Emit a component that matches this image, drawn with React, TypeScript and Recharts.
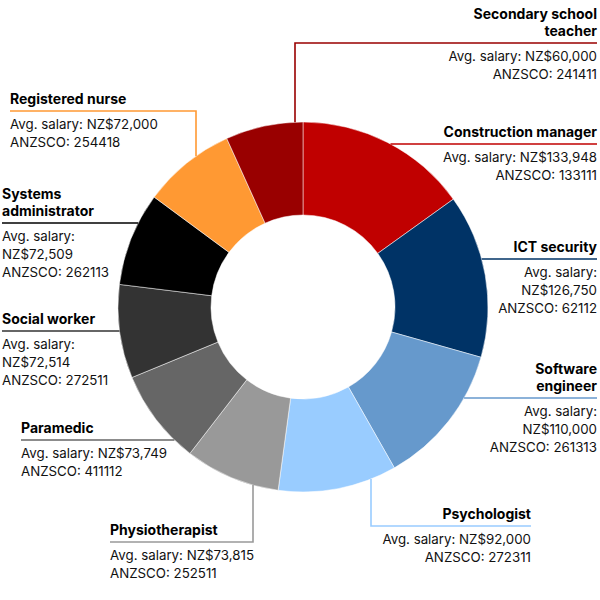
import React from 'react';
import { PieChart, Pie, Cell } from 'recharts';

const occupations = [
  'Construction manager',
  'ICT security',
  'Software engineer',
  'Psychologist',
  'Physiotherapist',
  'Paramedic',
  'Social worker',
  'Systems administrator',
  'Registered nurse',
  'Secondary school teacher',
];
const salaries = [133948, 126750, 110000, 92000, 73815, 73749, 72514, 72509, 72000, 60000];
const anzscoCodes = ['133111', '62112', '261313', '272311', '252511', '411112', '272511', '262113', '254418', '241411'];
const colors = ['#C00000', '#003366', '#6699CC', '#99CCFF', '#999999', '#666666', '#333333', '#000000', '#FF9933', '#990000'];

const data = occupations.map((name, i) => ({ name, value: salaries[i], code: anzscoCodes[i] }));

type LayoutItem = {
  anchor: 'start' | 'end';
  textX: number;
  lineY: number;
  elbowX?: number;
  splitSalary?: boolean;
  wrapTitle?: boolean;
};

const labelLayout: LayoutItem[] = [
  { anchor: 'end', textX: 597, lineY: 144 },
  { anchor: 'end', textX: 597, lineY: 259, splitSalary: true },
  { anchor: 'end', textX: 597, lineY: 398, splitSalary: true, wrapTitle: true },
  { anchor: 'end', textX: 531, lineY: 526, elbowX: 371 },
  { anchor: 'start', textX: 110, lineY: 542, elbowX: 253 },
  { anchor: 'start', textX: 21, lineY: 440 },
  { anchor: 'start', textX: 2, lineY: 331, splitSalary: true },
  { anchor: 'start', textX: 2, lineY: 223, splitSalary: true, wrapTitle: true },
  { anchor: 'start', textX: 10, lineY: 111, elbowX: 196 },
  { anchor: 'end', textX: 597, lineY: 43, elbowX: 295, wrapTitle: true },
];

const FONT = 'Inter, "Noto Sans", sans-serif';
const fmtSalary = (v: number) => 'NZ$' + v.toLocaleString('en-US');

const renderLabel = (props: any) => {
  const { cx, cy, outerRadius, index } = props;
  const lay = labelLayout[index];
  const d = data[index];
  const color = colors[index];
  const R = outerRadius;
  let path = '';
  if (lay.elbowX !== undefined) {
    const dx = lay.elbowX - cx;
    const off = Math.sqrt(Math.max(R * R - dx * dx, 0));
    const arcY = lay.lineY < cy ? cy - off : cy + off;
    path = `M${lay.elbowX},${arcY} L${lay.elbowX},${lay.lineY} L${lay.textX},${lay.lineY}`;
  } else {
    const dy = lay.lineY - cy;
    const off = Math.sqrt(Math.max(R * R - dy * dy, 0));
    const arcX = lay.anchor === 'end' ? cx + off : cx - off;
    path = `M${arcX},${lay.lineY} L${lay.textX},${lay.lineY}`;
  }
  let titleLines = [d.name];
  if (lay.wrapTitle) {
    const k = d.name.lastIndexOf(' ');
    titleLines = [d.name.slice(0, k), d.name.slice(k + 1)];
  }
  const bodyLines = lay.splitSalary
    ? ['Avg. salary:', fmtSalary(d.value), 'ANZSCO: ' + d.code]
    : ['Avg. salary: ' + fmtSalary(d.value), 'ANZSCO: ' + d.code];
  const nT = titleLines.length;
  return (
    <g key={'lbl' + index}>
      <path d={path} stroke={color} strokeWidth={1.6} fill="none" />
      {titleLines.map((t, i) => (
        <text
          key={'t' + i}
          x={lay.textX}
          y={lay.lineY - 12.5 - 17.5 * (nT - 1 - i)}
          textAnchor={lay.anchor}
          dominantBaseline="central"
          fontFamily={FONT}
          fontSize={14}
          fontWeight={700}
          fill="#000"
        >
          {t}
        </text>
      ))}
      {bodyLines.map((t, i) => (
        <text
          key={'b' + i}
          x={lay.textX}
          y={lay.lineY + 13 + 18 * i}
          textAnchor={lay.anchor}
          dominantBaseline="central"
          fontFamily={FONT}
          fontSize={13.3}
          fontWeight={400}
          fill="#111"
        >
          {t}
        </text>
      ))}
    </g>
  );
};

export default function App() {
  return (
    <div style={{ position: 'absolute', left: 0, top: 0, width: 600, height: 600, background: '#fff' }}>
      <PieChart width={600} height={600} margin={{ top: 0, right: 0, bottom: 0, left: 0 }}>
        <Pie
          data={data}
          dataKey="value"
          nameKey="name"
          cx={303}
          cy={307}
          innerRadius={92}
          outerRadius={185}
          startAngle={90}
          endAngle={-270}
          stroke="#fff"
          strokeWidth={0.5}
          label={renderLabel}
          labelLine={false}
          isAnimationActive={false}
        >
          {data.map((d, i) => (
            <Cell key={d.name} fill={colors[i]} />
          ))}
        </Pie>
      </PieChart>
    </div>
  );
}
